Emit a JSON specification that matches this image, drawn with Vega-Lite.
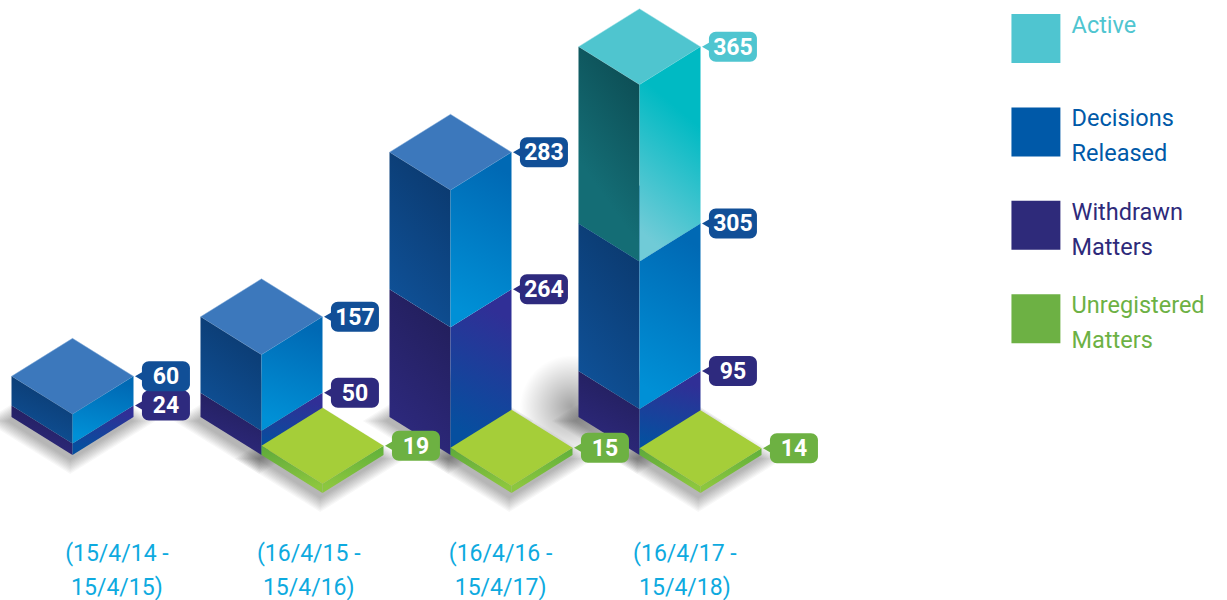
{
"$schema":"https://vega.github.io/schema/vega-lite/v6.json",
"width":1227,"height":600,"padding":0,
"autosize":{"type":"none"},
"background":"white",
"config":{"view":{"stroke":null}},
"params":[{"name":"w","value":0.3228},{"name":"d","value":78.5}],
"datasets":{
"bars":[
{"period":"(15/4/14 -\n15/4/15)","series":"Withdrawn Matters","value":24},
{"period":"(15/4/14 -\n15/4/15)","series":"Decisions Released","value":60},
{"period":"(16/4/15 -\n15/4/16)","series":"Withdrawn Matters","value":50},
{"period":"(16/4/15 -\n15/4/16)","series":"Decisions Released","value":157},
{"period":"(16/4/15 -\n15/4/16)","series":"Unregistered Matters","value":19},
{"period":"(16/4/16 -\n15/4/17)","series":"Withdrawn Matters","value":264},
{"period":"(16/4/16 -\n15/4/17)","series":"Decisions Released","value":283},
{"period":"(16/4/16 -\n15/4/17)","series":"Unregistered Matters","value":15},
{"period":"(16/4/17 -\n15/4/18)","series":"Withdrawn Matters","value":95},
{"period":"(16/4/17 -\n15/4/18)","series":"Decisions Released","value":305},
{"period":"(16/4/17 -\n15/4/18)","series":"Active","value":365},
{"period":"(16/4/17 -\n15/4/18)","series":"Unregistered Matters","value":14}
],
"legend":[{"series":"Active"},{"series":"Decisions Released"},{"series":"Withdrawn Matters"},{"series":"Unregistered Matters"}]
},
"data":{"name":"bars"},
"transform":[
{"window":[{"op":"dense_rank","as":"rank"}],"sort":[{"field":"period"}]},
{"calculate":"datum.series==='Unregistered Matters'?1:0","as":"ground"},
{"stack":"value","groupby":["period","ground"],"sort":[{"field":"series","order":"descending"}],"as":["v0","v1"]},
{"calculate":"datum.rank-1+datum.ground*w","as":"cx"},
{"calculate":"datum.v0-datum.ground*d","as":"b0"},
{"calculate":"datum.v1-datum.ground*d","as":"b1"},
{"calculate":"[-1,0,1]","as":"t"},
{"flatten":["t"]},
{"calculate":"abs(datum.t)","as":"at"},
{"calculate":"datum.cx+datum.t*w","as":"px"},
{"calculate":"datum.b1+d*(2-datum.at)","as":"topA"},
{"calculate":"datum.b1+d*datum.at","as":"topB"},
{"calculate":"datum.b0+d*datum.at","as":"sideB"},
{"calculate":"datum.cx+w+0.0446","as":"bubL"},
{"calculate":"datum.cx+w+0.2986","as":"bubR"},
{"calculate":"datum.cx+w+0.1716","as":"bubC"},
{"calculate":"datum.cx+w+0.032","as":"tip"},
{"calculate":"datum.b1+d","as":"bubY"},
{"calculate":"datum.bubY+31","as":"bubT"},
{"calculate":"datum.bubY-31","as":"bubB"}
],
"encoding":{
"x":{"type":"quantitative","scale":{"domain":[-0.3836,6.1085],"nice":false,"zero":false},"axis":null},
"y":{"type":"quantitative","scale":{"domain":[-299.6,940.1],"nice":false,"zero":false},"axis":null},
"detail":{"field":"period"}
},
"layer":[
{"transform":[{"filter":"datum.v0===0"},
  {"calculate":"[1.04,1.08,1.12,1.16,1.2,1.24,1.28,1.32,1.36,1.4]","as":"g"},{"flatten":["g"]},
  {"calculate":"datum.cx+datum.t*w*datum.g-0.012","as":"sx"},
  {"calculate":"datum.b0+d+datum.g*d*(1-datum.at)-8","as":"s1"},
  {"calculate":"datum.b0+d-datum.g*d*(1-datum.at)-8","as":"s2"}],
 "mark":{"type":"area","clip":true,"orient":"vertical","fill":"black","fillOpacity":0.03},
 "encoding":{"x":{"field":"sx"},"y":{"field":"s1"},"y2":{"field":"s2"},"detail":[{"field":"period"},{"field":"series"},{"field":"g"}]}},
{"transform":[{"filter":"datum.series==='Withdrawn Matters'&&datum.rank===4"},
  {"calculate":"datum.cx+datum.t*w*2-0.36","as":"hx"},
  {"calculate":"datum.b0+100+2*d*(1-datum.at)","as":"h1"},
  {"calculate":"datum.b0+100-2*d*(1-datum.at)","as":"h2"}],
 "mark":{"type":"area","clip":true,"orient":"vertical","fill":{"gradient":"radial","x1":0.5,"y1":0.5,"x2":0.5,"y2":0.5,"r1":0,"r2":0.5,"stops":[{"offset":0,"color":"rgba(0,0,0,0.36)"},{"offset":0.18,"color":"rgba(0,0,0,0.2)"},{"offset":0.42,"color":"rgba(0,0,0,0)"}]}},
 "encoding":{"x":{"field":"hx"},"y":{"field":"h1"},"y2":{"field":"h2"}}},

{"transform":[{"filter":"datum.series==='Withdrawn Matters'&&datum.t<=0"}],
 "mark":{"type":"area","orient":"vertical","fill":{"gradient":"linear","x1":0.7,"y1":0,"x2":0.3,"y2":1,"stops":[{"offset":0,"color":"#221e5a"},{"offset":1,"color":"#2e2a80"}]}},
 "encoding":{"x":{"field":"px"},"y":{"field":"topB"},"y2":{"field":"sideB"}}},
{"transform":[{"filter":"datum.series==='Withdrawn Matters'&&datum.t>=0"}],
 "mark":{"type":"area","orient":"vertical","fill":{"gradient":"linear","x1":0.6,"y1":0,"x2":0.4,"y2":1,"stops":[{"offset":0.1,"color":"#302f96"},{"offset":0.9,"color":"#064f9f"}]}},
 "encoding":{"x":{"field":"px"},"y":{"field":"topB"},"y2":{"field":"sideB"}}},

{"transform":[{"filter":"datum.series==='Decisions Released'"}],
 "mark":{"type":"area","orient":"vertical","fill":"#3c78bc","stroke":"#8fb4de","strokeWidth":0.5},
 "encoding":{"x":{"field":"px"},"y":{"field":"topA"},"y2":{"field":"topB"}}},
{"transform":[{"filter":"datum.series==='Decisions Released'&&datum.t<=0"}],
 "mark":{"type":"area","orient":"vertical","fill":{"gradient":"linear","x1":0.7,"y1":0,"x2":0.3,"y2":1,"stops":[{"offset":0,"color":"#0b396e"},{"offset":1,"color":"#0f5299"}]}},
 "encoding":{"x":{"field":"px"},"y":{"field":"topB"},"y2":{"field":"sideB"}}},
{"transform":[{"filter":"datum.series==='Decisions Released'&&datum.t>=0"}],
 "mark":{"type":"area","orient":"vertical","fill":{"gradient":"linear","x1":0.6,"y1":0,"x2":0.4,"y2":1,"stops":[{"offset":0.05,"color":"#0069b4"},{"offset":0.95,"color":"#0090d6"}]}},
 "encoding":{"x":{"field":"px"},"y":{"field":"topB"},"y2":{"field":"sideB"}}},

{"transform":[{"filter":"datum.series==='Active'"}],
 "mark":{"type":"area","orient":"vertical","fill":"#4fc5cf","stroke":"#a5e2e8","strokeWidth":0.5},
 "encoding":{"x":{"field":"px"},"y":{"field":"topA"},"y2":{"field":"topB"}}},
{"transform":[{"filter":"datum.series==='Active'&&datum.t<=0"}],
 "mark":{"type":"area","orient":"vertical","fill":{"gradient":"linear","x1":0.7,"y1":0,"x2":0.3,"y2":1,"stops":[{"offset":0.05,"color":"#0d4f56"},{"offset":0.7,"color":"#146d75"}]}},
 "encoding":{"x":{"field":"px"},"y":{"field":"topB"},"y2":{"field":"sideB"}}},
{"transform":[{"filter":"datum.series==='Active'&&datum.t>=0"}],
 "mark":{"type":"area","orient":"vertical","fill":{"gradient":"linear","x1":0.62,"y1":0,"x2":0.38,"y2":1,"stops":[{"offset":0.27,"color":"#00bac3"},{"offset":0.95,"color":"#70cbd7"}]}},
 "encoding":{"x":{"field":"px"},"y":{"field":"topB"},"y2":{"field":"sideB"}}},

{"transform":[{"filter":"datum.series==='Unregistered Matters'&&datum.t<=0"}],
 "mark":{"type":"area","orient":"vertical","fill":{"gradient":"linear","x1":0,"y1":0,"x2":0.2,"y2":1,"stops":[{"offset":0,"color":"#5da93b"},{"offset":1,"color":"#8cc63f"}]}},
 "encoding":{"x":{"field":"px"},"y":{"field":"topB"},"y2":{"field":"sideB"}}},
{"transform":[{"filter":"datum.series==='Unregistered Matters'&&datum.t>=0"}],
 "mark":{"type":"area","orient":"vertical","fill":{"gradient":"linear","x1":1,"y1":0,"x2":0.8,"y2":1,"stops":[{"offset":0,"color":"#5fb03a"},{"offset":1,"color":"#8cc63f"}]}},
 "encoding":{"x":{"field":"px"},"y":{"field":"topB"},"y2":{"field":"sideB"}}},
{"transform":[{"filter":"datum.series==='Unregistered Matters'"}],
 "mark":{"type":"area","orient":"vertical","fill":"#a5ce39"},
 "encoding":{"x":{"field":"px"},"y":{"field":"topA"},"y2":{"field":"topB"}}},

{"transform":[{"filter":"datum.t===0"}],
 "mark":{"type":"point","shape":"triangle-left","filled":true,"size":110,"opacity":1},
 "encoding":{"x":{"field":"tip"},"y":{"field":"bubY"},"detail":{"field":"series"},
  "fill":{"field":"series","type":"nominal","legend":null,"scale":{"domain":["Active","Decisions Released","Withdrawn Matters","Unregistered Matters"],"range":["#4fc5d0","#114f97","#2e2a7e","#6db142"]}}}},
{"transform":[{"filter":"datum.t===0"}],
 "mark":{"type":"rect","cornerRadius":7},
 "encoding":{"x":{"field":"bubL"},"x2":{"field":"bubR"},"y":{"field":"bubT"},"y2":{"field":"bubB"},"detail":{"field":"series"},
  "fill":{"field":"series","type":"nominal","legend":null}}},
{"transform":[{"filter":"datum.t===0"}],
 "mark":{"type":"text","font":"Roboto","fontWeight":"bold","fontSize":23,"color":"white","align":"center","baseline":"middle","dy":1},
 "encoding":{"x":{"field":"bubC"},"y":{"field":"bubY"},"detail":{"field":"series"},"text":{"field":"value","type":"quantitative"}}},

{"transform":[{"filter":"datum.t===0&&datum.series==='Decisions Released'"},{"calculate":"datum.rank-1+[0.235,0.25,0.265,0.24][datum.rank-1]","as":"lx"},{"calculate":"-218","as":"ly"}],
 "mark":{"type":"text","font":"Roboto","fontSize":23,"color":"#0eaadf","align":"center","baseline":"alphabetic","lineBreak":"\n","lineHeight":34},
 "encoding":{"x":{"field":"lx"},"y":{"field":"ly"},"text":{"field":"period"}}},

{"data":{"name":"legend"},
 "transform":[{"window":[{"op":"row_number","as":"i"}]},
  {"calculate":"911-(datum.i-1)*192.9","as":"top"},{"calculate":"datum.top-101.2","as":"bot"},
  {"calculate":"4.968","as":"l"},{"calculate":"5.227","as":"r"}],
 "mark":{"type":"rect"},
 "encoding":{"x":{"field":"l"},"x2":{"field":"r"},"y":{"field":"top"},"y2":{"field":"bot"},"detail":{"field":"series"},
  "color":{"field":"series","type":"nominal","legend":null,"scale":{"domain":["Active","Decisions Released","Withdrawn Matters","Unregistered Matters"],"range":["#4fc5d0","#0059a8","#2e2a7a","#6db144"]}}}},
{"data":{"name":"legend"},
 "transform":[{"window":[{"op":"row_number","as":"i"}]},
  {"calculate":"911-(datum.i-1)*192.9-39","as":"top"},
  {"calculate":"5.286","as":"l"},
  {"calculate":"replace(datum.series,' ','\\n')","as":"lab"}],
 "mark":{"type":"text","font":"Roboto","fontSize":23.5,"align":"left","baseline":"alphabetic","lineBreak":"\n","lineHeight":35},
 "encoding":{"x":{"field":"l"},"y":{"field":"top"},"detail":{"field":"series"},"text":{"field":"lab"},
  "color":{"field":"series","type":"nominal","legend":null}}}
]
}
